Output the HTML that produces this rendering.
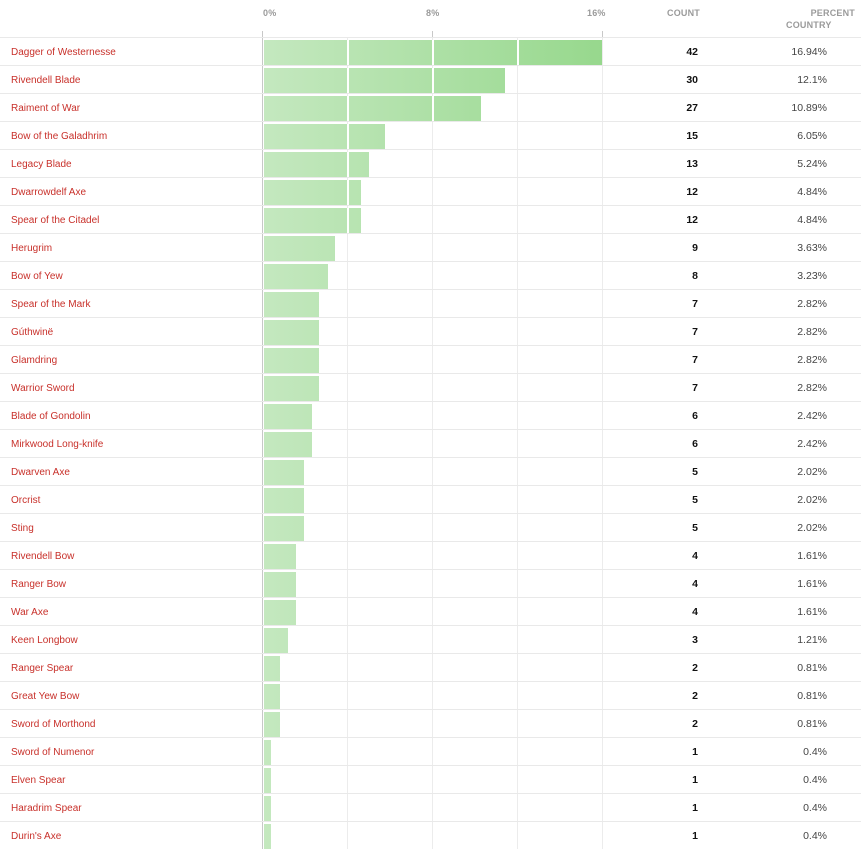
<!DOCTYPE html>
<html><head><meta charset="utf-8"><style>
*{margin:0;padding:0;box-sizing:border-box}
body{width:861px;height:849px;background:#fff;position:relative;overflow:hidden;font-family:"Liberation Sans",sans-serif}
.h{position:absolute;font-size:9px;color:#9a9a9a;font-weight:bold;letter-spacing:0.2px}
.g{position:absolute;top:37px;bottom:0;width:1px;background:#ececec}
.ax{position:absolute;left:262px;top:37px;bottom:0;width:1px;background:#c8c8c8}
.tk{position:absolute;top:31px;height:6px;width:1px;background:#c8c8c8}
.r{position:absolute;left:0;width:861px;height:28px;border-top:1px solid #e9e9e9}
.l{position:absolute;left:11px;top:9px;font-size:10px;color:#c8302a}
.b{position:absolute;left:264px;top:2px;height:25px;overflow:hidden;background:linear-gradient(to right,#c4e8bf,#97d88d);background-size:338px 100%;background-repeat:no-repeat}
.b i{position:absolute;top:0;bottom:0;width:2px;background:#fff}
.c{position:absolute;right:163px;top:8px;font-size:10.5px;font-weight:bold;color:#111}
.p{position:absolute;right:34px;top:8px;font-size:10.5px;color:#444}
</style></head><body>
<div class="h" style="left:263px;top:8px">0%</div>
<div class="h" style="left:426px;top:8px">8%</div>
<div class="h" style="left:587px;top:8px">16%</div>
<div class="h" style="left:667px;top:8px">COUNT</div>
<div class="h" style="right:6px;top:8px">PERCENT</div>
<div class="h" style="left:786px;top:20px">COUNTRY</div>
<div class="g" style="left:347px"></div>
<div class="g" style="left:432px"></div>
<div class="g" style="left:517px"></div>
<div class="g" style="left:602px"></div>
<div class="ax"></div>
<div class="tk" style="left:432px"></div>
<div class="tk" style="left:602px"></div>
<div class="tk" style="left:262px"></div>

<div class="r" style="top:37px"><span class="l">Dagger of Westernesse</span><div class="b" style="width:338px"><i style="left:83px"></i><i style="left:168px"></i><i style="left:253px"></i></div><span class="c">42</span><span class="p">16.94%</span></div>
<div class="r" style="top:65px"><span class="l">Rivendell Blade</span><div class="b" style="width:241px"><i style="left:83px"></i><i style="left:168px"></i><i style="left:253px"></i></div><span class="c">30</span><span class="p">12.1%</span></div>
<div class="r" style="top:93px"><span class="l">Raiment of War</span><div class="b" style="width:217px"><i style="left:83px"></i><i style="left:168px"></i><i style="left:253px"></i></div><span class="c">27</span><span class="p">10.89%</span></div>
<div class="r" style="top:121px"><span class="l">Bow of the Galadhrim</span><div class="b" style="width:121px"><i style="left:83px"></i></div><span class="c">15</span><span class="p">6.05%</span></div>
<div class="r" style="top:149px"><span class="l">Legacy Blade</span><div class="b" style="width:105px"><i style="left:83px"></i></div><span class="c">13</span><span class="p">5.24%</span></div>
<div class="r" style="top:177px"><span class="l">Dwarrowdelf Axe</span><div class="b" style="width:97px"><i style="left:83px"></i></div><span class="c">12</span><span class="p">4.84%</span></div>
<div class="r" style="top:205px"><span class="l">Spear of the Citadel</span><div class="b" style="width:97px"><i style="left:83px"></i></div><span class="c">12</span><span class="p">4.84%</span></div>
<div class="r" style="top:233px"><span class="l">Herugrim</span><div class="b" style="width:71px"></div><span class="c">9</span><span class="p">3.63%</span></div>
<div class="r" style="top:261px"><span class="l">Bow of Yew</span><div class="b" style="width:64px"></div><span class="c">8</span><span class="p">3.23%</span></div>
<div class="r" style="top:289px"><span class="l">Spear of the Mark</span><div class="b" style="width:55px"></div><span class="c">7</span><span class="p">2.82%</span></div>
<div class="r" style="top:317px"><span class="l">Gúthwinë</span><div class="b" style="width:55px"></div><span class="c">7</span><span class="p">2.82%</span></div>
<div class="r" style="top:345px"><span class="l">Glamdring</span><div class="b" style="width:55px"></div><span class="c">7</span><span class="p">2.82%</span></div>
<div class="r" style="top:373px"><span class="l">Warrior Sword</span><div class="b" style="width:55px"></div><span class="c">7</span><span class="p">2.82%</span></div>
<div class="r" style="top:401px"><span class="l">Blade of Gondolin</span><div class="b" style="width:48px"></div><span class="c">6</span><span class="p">2.42%</span></div>
<div class="r" style="top:429px"><span class="l">Mirkwood Long-knife</span><div class="b" style="width:48px"></div><span class="c">6</span><span class="p">2.42%</span></div>
<div class="r" style="top:457px"><span class="l">Dwarven Axe</span><div class="b" style="width:40px"></div><span class="c">5</span><span class="p">2.02%</span></div>
<div class="r" style="top:485px"><span class="l">Orcrist</span><div class="b" style="width:40px"></div><span class="c">5</span><span class="p">2.02%</span></div>
<div class="r" style="top:513px"><span class="l">Sting</span><div class="b" style="width:40px"></div><span class="c">5</span><span class="p">2.02%</span></div>
<div class="r" style="top:541px"><span class="l">Rivendell Bow</span><div class="b" style="width:32px"></div><span class="c">4</span><span class="p">1.61%</span></div>
<div class="r" style="top:569px"><span class="l">Ranger Bow</span><div class="b" style="width:32px"></div><span class="c">4</span><span class="p">1.61%</span></div>
<div class="r" style="top:597px"><span class="l">War Axe</span><div class="b" style="width:32px"></div><span class="c">4</span><span class="p">1.61%</span></div>
<div class="r" style="top:625px"><span class="l">Keen Longbow</span><div class="b" style="width:24px"></div><span class="c">3</span><span class="p">1.21%</span></div>
<div class="r" style="top:653px"><span class="l">Ranger Spear</span><div class="b" style="width:16px"></div><span class="c">2</span><span class="p">0.81%</span></div>
<div class="r" style="top:681px"><span class="l">Great Yew Bow</span><div class="b" style="width:16px"></div><span class="c">2</span><span class="p">0.81%</span></div>
<div class="r" style="top:709px"><span class="l">Sword of Morthond</span><div class="b" style="width:16px"></div><span class="c">2</span><span class="p">0.81%</span></div>
<div class="r" style="top:737px"><span class="l">Sword of Numenor</span><div class="b" style="width:7px"></div><span class="c">1</span><span class="p">0.4%</span></div>
<div class="r" style="top:765px"><span class="l">Elven Spear</span><div class="b" style="width:7px"></div><span class="c">1</span><span class="p">0.4%</span></div>
<div class="r" style="top:793px"><span class="l">Haradrim Spear</span><div class="b" style="width:7px"></div><span class="c">1</span><span class="p">0.4%</span></div>
<div class="r" style="top:821px"><span class="l">Durin's Axe</span><div class="b" style="width:7px"></div><span class="c">1</span><span class="p">0.4%</span></div>
</body></html>
